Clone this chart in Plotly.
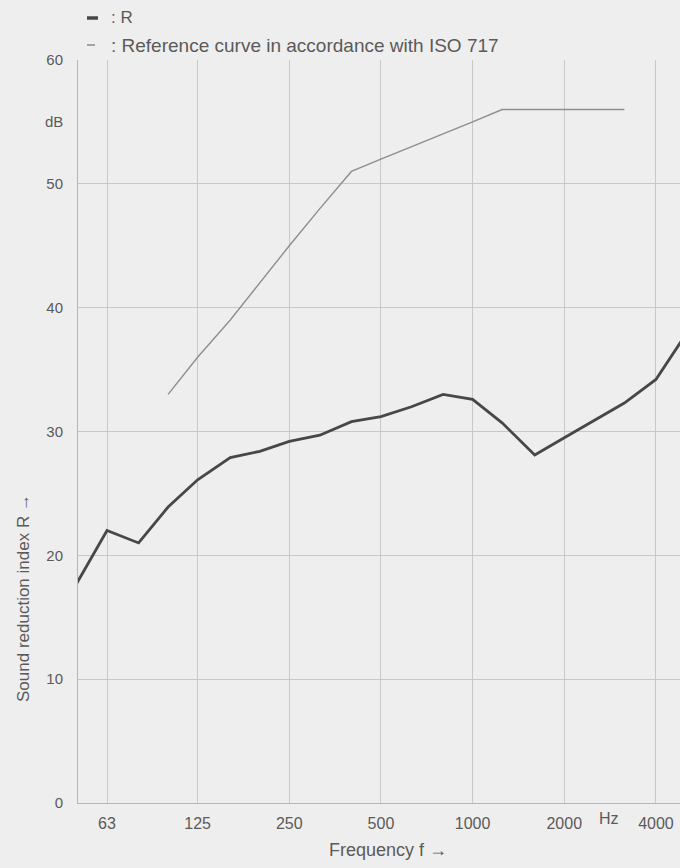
import math
import plotly.graph_objects as go

# Third-octave band centre frequencies (Hz)
freqs = [50, 63, 80, 100, 125, 160, 200, 250, 315, 400, 500, 630, 800,
         1000, 1250, 1600, 2000, 2500, 3150, 4000, 5000]
# Measured sound reduction index R (dB)
r_values = [17.7, 22.0, 21.0, 23.9, 26.1, 27.9, 28.4, 29.2, 29.7, 30.8, 31.2,
            32.0, 33.0, 32.6, 30.7, 28.1, 29.5, 30.9, 32.3, 34.2, 37.8]

# Reference curve in accordance with ISO 717
ref_freqs = [100, 125, 160, 200, 250, 315, 400, 500, 630, 800, 1000,
             1250, 1600, 2000, 2500, 3150]
ref_values = [33, 36, 39, 42, 45, 48, 51, 52, 53, 54, 55, 56, 56, 56, 56, 56]

x_ticks = [63, 125, 250, 500, 1000, 2000, 4000]
x_tick_labels = ["63", "125", "250", "500", "1000", "2000", "4000"]
y_ticks = [0, 10, 20, 30, 40, 50, 60]

FONT = "Liberation Sans, Arial, sans-serif"
TXT = "#5a5a5a"
GRID = "#c8c8c8"
BG = "#efeeee"

W, H = 680, 868
L, R_, T, B = 78, 0, 60, 65
pw, ph = W - L - R_, H - T - B


def px(x):
    return (x - L) / pw


def py(y):
    return (H - B - y) / ph


fig = go.Figure()
fig.add_trace(go.Scatter(x=ref_freqs, y=ref_values, mode="lines",
                         line=dict(color="#8e8e8e", width=1.4),
                         name="Reference curve in accordance with ISO 717",
                         showlegend=False))
fig.add_trace(go.Scatter(x=freqs, y=r_values, mode="lines",
                         line=dict(color="#474747", width=2.8),
                         name="R", showlegend=False))

fig.update_layout(
    width=W, height=H,
    margin=dict(l=L, r=R_, t=T, b=B, pad=0),
    paper_bgcolor=BG, plot_bgcolor=BG,
    font=dict(family=FONT, color=TXT, size=15),
    xaxis=dict(type="log", range=[1.7041, 3.6811],
               tickvals=x_ticks, ticktext=x_tick_labels,
               showgrid=True, gridcolor=GRID, gridwidth=1,
               zeroline=False, showline=True, linecolor="#b5b5b5",
               ticks="", tickfont=dict(size=16), ticklabelstandoff=6),
    yaxis=dict(range=[0, 60], tickvals=y_ticks,
               showgrid=True, gridcolor=GRID, gridwidth=1,
               zeroline=False, showline=True, linecolor="#b5b5b5",
               ticks="", tickfont=dict(size=15), ticklabelstandoff=11),
)

# Legend drawn as small line samples with text
fig.add_shape(type="line", xref="paper", yref="paper",
              x0=px(87), x1=px(98), y0=py(18), y1=py(18),
              line=dict(color="#474747", width=3.5))
fig.add_shape(type="line", xref="paper", yref="paper",
              x0=px(87), x1=px(95), y0=py(45), y1=py(45),
              line=dict(color="#8e8e8e", width=1.6))
fig.add_annotation(xref="paper", yref="paper", x=px(109), y=py(18),
                   text=": R", showarrow=False, xanchor="left",
                   yanchor="middle", font=dict(size=17))
fig.add_annotation(xref="paper", yref="paper", x=px(109), y=py(45),
                   text=": Reference curve in accordance with ISO 717",
                   showarrow=False, xanchor="left", yanchor="middle",
                   font=dict(size=19))

# Unit labels
fig.add_annotation(xref="paper", yref="y", x=px(65), y=55.0, text="dB",
                   showarrow=False, xanchor="right", yanchor="middle",
                   font=dict(size=15))
fig.add_annotation(xref="x", yref="paper", x=math.log10(2810), y=py(819),
                   text="Hz", showarrow=False, xanchor="center",
                   yanchor="middle", font=dict(size=16))

# Axis titles
fig.add_annotation(xref="paper", yref="paper", x=px(388), y=py(850),
                   text="Frequency f \u2192", showarrow=False,
                   xanchor="center", yanchor="middle", font=dict(size=18))
fig.add_annotation(xref="paper", yref="paper", x=px(23), y=py(598),
                   text="Sound reduction index R \u2192", showarrow=False,
                   textangle=-90, xanchor="center", yanchor="middle",
                   font=dict(size=17))

fig.write_html("out.html")
